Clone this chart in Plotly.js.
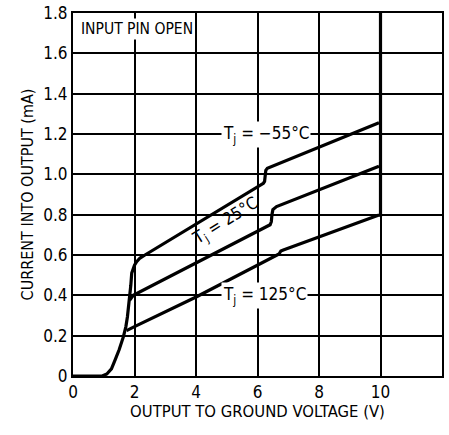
<!DOCTYPE html>
<html><head><meta charset="utf-8">
<script src="https://cdn.plot.ly/plotly-3.0.1.min.js"></script>
<style>body{margin:0;background:#fff}</style>
</head><body><div id="chart" style="width:449px;height:435px"></div>
<script>
// Data
var xM55 = [0, 0.95, 1.1, 1.25, 1.37, 1.5, 1.64, 1.72, 1.77, 1.81, 1.85, 1.88, 1.91, 1.95, 2.0, 2.07, 2.18, 2.34, 6.19, 6.23, 6.25, 6.27, 6.32, 9.95];
var yM55 = [0, 0, 0.01, 0.035, 0.08, 0.13, 0.195, 0.245, 0.294, 0.34, 0.39, 0.45, 0.51, 0.535, 0.55, 0.567, 0.585, 0.60, 0.955, 0.965, 0.99, 1.02, 1.03, 1.256];
var x25 = [1.84, 1.96, 6.41, 6.45, 6.47, 6.50, 6.62, 9.95];
var y25 = [0.375, 0.40, 0.75, 0.765, 0.80, 0.825, 0.84, 1.04];
var x125 = [1.74, 2.0, 4.02, 6.62, 6.70, 6.76, 6.84, 9.95];
var y125 = [0.225, 0.245, 0.393, 0.595, 0.605, 0.62, 0.625, 0.798];
var xVert = [10, 10];
var yVert = [0.79, 1.8];
var xTicks = [0, 2, 4, 6, 8, 10, 12];
var yTicks = [0, 0.2, 0.4, 0.6, 0.8, 1.0, 1.2, 1.4, 1.6, 1.8];
var yTickText = ['0', '0.2', '0.4', '0.6', '0.8', '1.0', '1.2', '1.4', '1.6', '1.8'];

var FONT = '"DejaVu Sans Condensed", "Liberation Sans Narrow", Arial, sans-serif';
var line = {color: '#000', width: 3.2, shape: 'linear'};
var traces = [
  {x: xM55, y: yM55, mode: 'lines', line: line, hoverinfo: 'skip'},
  {x: x25, y: y25, mode: 'lines', line: line, hoverinfo: 'skip'},
  {x: x125, y: y125, mode: 'lines', line: line, hoverinfo: 'skip'},
  {x: xVert, y: yVert, mode: 'lines', line: {color: '#000', width: 3.2}, hoverinfo: 'skip'}
];
var layout = {
  width: 449, height: 435,
  margin: {l: 73, r: 7, t: 13, b: 59},
  paper_bgcolor: '#fff', plot_bgcolor: '#fff',
  showlegend: false,
  font: {family: FONT, color: '#000', size: 15},
  xaxis: {
    range: [0, 12], tickvals: xTicks, ticktext: xTicks.map(String),
    showgrid: true, gridcolor: '#000', gridwidth: 2,
    showline: true, linecolor: '#000', linewidth: 2, mirror: true,
    zeroline: false, ticks: '', ticklen: 0,
    tickfont: {family: FONT, size: 17, color: '#000'},
    title: {text: 'OUTPUT TO GROUND VOLTAGE (V)', font: {family: FONT, size: 16.5, color: '#000'}, standoff: 4}
  },
  yaxis: {
    range: [0, 1.8], tickvals: yTicks, ticktext: yTickText,
    showgrid: true, gridcolor: '#000', gridwidth: 2,
    showline: true, linecolor: '#000', linewidth: 2, mirror: true,
    zeroline: false, ticks: '',
    tickfont: {family: FONT, size: 17, color: '#000'},
    title: {text: 'CURRENT INTO OUTPUT (mA)', font: {family: FONT, size: 16, color: '#000'}, standoff: 6}
  },
  annotations: [
    {x: 0.2, y: 1.72, xref: 'x', yref: 'y', xanchor: 'left', yanchor: 'middle', showarrow: false,
     text: 'INPUT PIN OPEN', bgcolor: '#fff', font: {family: FONT, size: 15.5, color: '#000'}},
    {x: 4.8, y: 1.2, xref: 'x', yref: 'y', xanchor: 'left', yanchor: 'middle', showarrow: false,
     text: 'T<sub>j</sub> = −55°C', bgcolor: '#fff', font: {family: FONT, size: 17, color: '#000'}},
    {x: 4.97, y: 0.765, xref: 'x', yref: 'y', xanchor: 'center', yanchor: 'middle', showarrow: false, textangle: -32,
     text: 'T<sub>j</sub> = 25°C', bgcolor: 'rgba(255,255,255,0)', font: {family: FONT, size: 17, color: '#000'}},
    {x: 4.8, y: 0.4, xref: 'x', yref: 'y', xanchor: 'left', yanchor: 'middle', showarrow: false,
     text: 'T<sub>j</sub> = 125°C', bgcolor: '#fff', font: {family: FONT, size: 17, color: '#000'}}
  ]
};
Plotly.newPlot('chart', traces, layout, {displayModeBar: false, staticPlot: true});
</script></body></html>
